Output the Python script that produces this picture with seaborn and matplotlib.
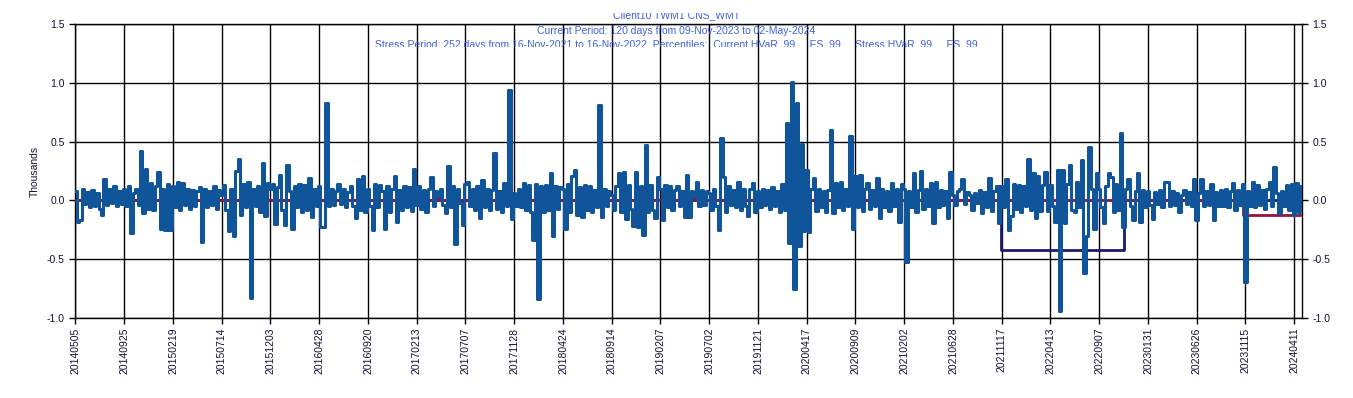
import numpy as np
import pandas as pd
import matplotlib
matplotlib.use("Agg")
import matplotlib.pyplot as plt
import seaborn as sns
from matplotlib import font_manager
from matplotlib.transforms import Bbox

# Daily P&L in thousands, sampled every 5 trading days (one list per 100-day block)
seg0 = [0.08, -0.18, -0.17, 0.1, -0.03, 0.07, -0.06, 0.09, -0.05, 0.06, -0.07, -0.12, 0.18, -0.04, 0.1, -0.02, 0.12, -0.05, 0.08, -0.03]
seg1 = [0.1, -0.05, 0.12, -0.28, 0.06, 0.1, -0.04, 0.42, -0.11, 0.27, -0.07, 0.15, -0.08, 0.12, 0.24, -0.24, 0.1, -0.25, 0.14, -0.25]
seg2 = [0.12, -0.06, 0.16, -0.08, 0.15, -0.04, 0.1, -0.07, 0.09, -0.05, 0.08, 0.11, -0.35, 0.1, -0.06, 0.08, -0.04, 0.12, -0.07, 0.09]
seg3 = [0.05, 0.13, -0.08, -0.26, 0.1, -0.3, 0.25, 0.35, -0.12, 0.14, -0.06, 0.16, -0.83, 0.1, -0.05, 0.12, -0.1, 0.32, -0.13, 0.15]
seg4 = [0.1, 0.14, -0.2, 0.11, 0.22, -0.08, -0.21, 0.3, 0.08, -0.24, 0.12, -0.06, 0.14, -0.1, 0.13, -0.08, 0.19, -0.14, 0.1, -0.05]
seg5 = [0.12, -0.23, -0.23, 0.83, -0.05, 0.1, -0.04, 0.08, 0.14, -0.03, 0.1, -0.06, 0.07, 0.12, -0.05, -0.15, 0.18, -0.08, 0.21, -0.1]
seg6 = [0.1, -0.05, -0.25, 0.14, -0.06, 0.13, 0.08, -0.24, 0.12, -0.1, 0.1, 0.21, -0.18, 0.09, -0.08, 0.12, -0.06, 0.11, -0.09, 0.27]
seg7 = [-0.04, 0.12, -0.07, 0.09, -0.1, 0.1, 0.2, -0.05, 0.08, 0.03, 0.1, -0.04, -0.11, 0.29, -0.06, 0.12, -0.37, 0.1, -0.02, -0.21]
seg8 = [0.14, 0.16, -0.05, 0.1, -0.08, 0.12, -0.15, 0.17, -0.06, 0.1, -0.08, 0.09, 0.4, -0.07, 0.08, -0.1, 0.15, -0.05, 0.94, -0.16]
seg9 = [0.06, -0.05, 0.1, -0.06, 0.15, -0.08, 0.13, -0.1, -0.34, 0.14, -0.84, 0.12, -0.1, 0.13, -0.08, 0.23, -0.3, 0.12, -0.07, 0.11]
seg10 = [0.1, -0.24, 0.14, -0.1, 0.21, 0.26, -0.12, 0.11, -0.14, 0.13, -0.08, 0.12, -0.1, 0.09, -0.06, 0.81, -0.14, 0.1, -0.05, 0.08]
seg11 = [0.05, -0.08, 0.12, 0.23, -0.1, 0.24, -0.16, 0.13, -0.07, -0.22, 0.24, -0.23, 0.12, -0.29, 0.47, -0.1, 0.13, -0.08, -0.15, 0.2]
seg12 = [0.1, -0.17, 0.13, -0.06, 0.12, -0.08, 0.09, 0.12, -0.05, 0.08, -0.14, 0.22, -0.14, 0.08, 0.03, 0.16, -0.05, 0.09, -0.04, 0.08]
seg13 = [0.06, -0.08, 0.1, -0.05, -0.25, 0.53, 0.2, -0.1, 0.12, -0.04, 0.09, -0.06, 0.16, -0.08, 0.1, -0.05, -0.13, 0.1, 0.15, -0.1]
seg14 = [0.08, -0.06, 0.1, -0.04, 0.09, -0.07, 0.11, -0.05, 0.08, -0.1, 0.14, -0.08, 0.66, -0.36, 1.01, -0.75, 0.83, -0.39, 0.48, -0.26]
seg15 = [0.26, -0.27, 0.1, 0.19, -0.09, 0.1, -0.06, 0.08, -0.1, 0.09, 0.6, -0.11, 0.15, -0.06, 0.16, -0.08, 0.1, -0.05, 0.55, -0.24]
seg16 = [0.21, -0.06, 0.22, -0.09, 0.1, 0.15, -0.07, 0.09, -0.05, 0.19, -0.15, 0.1, -0.06, 0.08, -0.09, 0.15, -0.05, 0.1, -0.18, 0.14]
seg17 = [0.1, -0.52, 0.08, -0.06, 0.23, -0.1, 0.09, 0.25, -0.07, 0.1, -0.05, 0.15, -0.19, 0.16, -0.06, 0.09, -0.04, 0.08, -0.15, 0.24]
seg18 = [0.05, -0.04, 0.08, 0.1, 0.18, -0.03, 0.07, 0.05, -0.08, 0.06, -0.02, 0.09, -0.11, 0.07, -0.06, 0.19, -0.09, 0.08, 0.12, -0.19]
seg19 = [0.12, -0.06, 0.18, -0.25, -0.13, 0.14, -0.07, 0.13, -0.1, 0.12, -0.05, 0.35, -0.08, 0.23, -0.15, 0.21, -0.09, 0.13, 0.24, -0.09]
seg20 = [0.13, -0.05, -0.18, 0.26, -0.94, 0.26, -0.19, 0.14, 0.3, -0.08, -0.1, 0.16, -0.06, 0.34, -0.62, -0.3, 0.45, 0.1, -0.24, 0.23]
seg21 = [0.1, -0.06, -0.19, 0.12, 0.23, 0.2, -0.1, 0.14, -0.08, 0.57, -0.23, 0.1, 0.18, -0.05, -0.17, 0.08, 0.23, -0.18, 0.09, -0.06]
seg22 = [0.08, -0.04, -0.16, 0.07, -0.03, 0.09, -0.06, 0.16, 0.16, -0.05, 0.08, -0.04, 0.06, -0.1, 0.05, 0.09, -0.03, 0.07, -0.05, 0.18]
seg23 = [-0.17, 0.06, 0.18, -0.05, 0.08, -0.04, 0.14, -0.17, 0.07, -0.05, 0.09, -0.05, 0.1, -0.06, 0.08, 0.15, -0.08, 0.09, -0.04, 0.14]
seg24 = [-0.69, 0.08, -0.05, 0.16, -0.06, 0.13, -0.04, 0.09, -0.07, 0.1, 0.16, -0.05, 0.28, 0.06, -0.11, 0.08, -0.05, 0.13, -0.08, 0.14]
seg25 = [-0.12, 0.15, -0.1, 0.12]

# every 100th trading date is labelled
tick_labels = ["20140505", "20140925", "20150219", "20150714", "20151203", "20160428",
               "20160920", "20170213", "20170707", "20171128", "20180424", "20180914",
               "20190207", "20190702", "20191121", "20200417", "20200909", "20210202",
               "20210628", "20211117", "20220413", "20220907", "20230131", "20230626",
               "20231115", "20240411"]
n_days = 2516
sample_step = 5

# HVaR step series (trading-day index where the level changes, level in thousands)
stress_days = [0, 1899, 2151, 2515]
stress_level = [0.0, -0.423, 0.0, 0.0]
current_days = [0, 2396, 2515]
current_level = [0.0, -0.128, -0.128]

title_lines = ["Client10 TWM1 CNS_WMT",
               "Current Period: 120 days from 09-Nov-2023 to 02-May-2024",
               "Stress Period: 252 days from 16-Nov-2021 to 16-Nov-2022. Percentiles:  Current HVaR_99     ES_99     Stress HVaR_99     ES_99"]

segs = [seg0, seg1, seg2, seg3, seg4, seg5, seg6, seg7, seg8, seg9, seg10, seg11, seg12,
        seg13, seg14, seg15, seg16, seg17, seg18, seg19, seg20, seg21, seg22, seg23, seg24, seg25]
pnl = [v for s in segs for v in s]
df = pd.DataFrame({"day": np.arange(len(pnl)) * sample_step, "pnl": pnl})
stress = pd.DataFrame({"day": stress_days, "level": stress_level})
current = pd.DataFrame({"day": current_days, "level": current_level})

sns.set_style("white")
plt.rcParams["font.family"] = ["Liberation Sans", "DejaVu Sans"]

# narrow title font if there is one
installed = {f.name for f in font_manager.fontManager.ttflist}
if "Liberation Sans Narrow" in installed:
    title_font, title_size = ["Liberation Sans Narrow", "DejaVu Sans"], 9
else:
    title_font, title_size = ["Liberation Sans", "DejaVu Sans"], 7.5

fig = plt.figure(figsize=(13.53, 3.98), dpi=100)
ax = fig.add_axes([0.0554, 0.2010, 0.9069, 0.7387])

sns.lineplot(data=stress, x="day", y="level", ax=ax, color="#1C1A6B", lw=2,
             drawstyle="steps-post", estimator=None, zorder=3)
sns.lineplot(data=current, x="day", y="level", ax=ax, color="#9C0F3F", lw=2,
             drawstyle="steps-post", estimator=None, zorder=3.5)
sns.lineplot(data=df, x="day", y="pnl", ax=ax, color="#10559A", lw=2.2,
             drawstyle="steps-mid", estimator=None, zorder=4)

ax.set_xlim(-1, n_days)
ax.set_ylim(-1.0, 1.5)
ax.set_yticks([-1.0, -0.5, 0.0, 0.5, 1.0, 1.5])
ax.set_yticklabels(["-1.0", "-0.5", "0.0", "0.5", "1.0", "1.5"])
ax.set_xticks(np.arange(len(tick_labels)) * 100)
ax.set_xticklabels(tick_labels, rotation=90)
ax.grid(True, color="black", lw=1)
ax.set_axisbelow(True)
ax.tick_params(axis="both", direction="out", length=4, width=1, color="black",
               labelsize=7.5, labelcolor="#111133", bottom=True, left=True,
               right=True, labelright=True)
ax.tick_params(axis="x", pad=3)
for side in ["left", "bottom", "right", "top"]:
    ax.spines[side].set_visible(True)
    ax.spines[side].set_color("black")
    ax.spines[side].set_linewidth(1)
ax.set_xlabel("")
ax.set_ylabel("Thousands", fontsize=7.5, color="#111133", labelpad=5)

# title block is cut off above and below, as in the source export
clip = Bbox.from_extents(0, 398 - 47, 1353, 398 - 13)
for line, ypx in zip(title_lines, [15.5, 30.5, 45.5]):
    t = fig.text(0.5, 1 - ypx / 398, line, ha="center", va="center", fontsize=title_size,
                 color="#3F5FE0", family=title_font, zorder=0.5)
    t.set_clip_box(clip)
    t.set_clip_on(True)

fig.savefig("out.png", dpi=100)
